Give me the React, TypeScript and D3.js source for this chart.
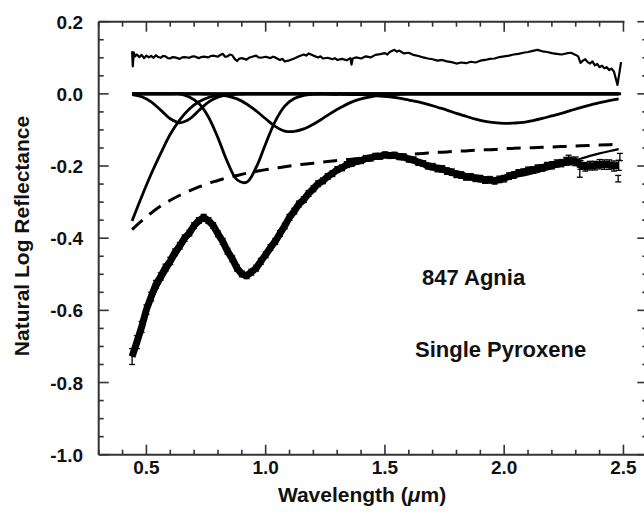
import React from 'react';
import * as d3 from 'd3';

// ---------- data ----------
// model grid (µm)
const modelWl = [0.44,0.48,0.52,0.56,0.60,0.64,0.68,0.72,0.76,0.80,0.84,0.88,0.92,0.96,1.00,1.04,1.08,1.12,1.16,1.20,1.24,1.28,1.32,1.36,1.40,1.44,1.48,1.52,1.56,1.60,1.64,1.68,1.72,1.76,1.80,1.84,1.88,1.92,1.96,2.00,2.04,2.08,2.12,2.16,2.20,2.24,2.28,2.32,2.36,2.40,2.44,2.48];

const bandUV = [-0.352,-0.285,-0.222,-0.165,-0.112,-0.072,-0.042,-0.022,-0.010,-0.004,-0.001,0,0,0,0,0,0,0,0,0,0,0,0,0,0,0,0,0,0,0,0,0,0,0,0,0,0,0,0,0,0,0,0,0,0,0,0,0,0,0,0,0];
const band063 = [-0.002,-0.008,-0.022,-0.045,-0.069,-0.080,-0.070,-0.046,-0.023,-0.009,-0.003,-0.001,0,0,0,0,0,0,0,0,0,0,0,0,0,0,0,0,0,0,0,0,0,0,0,0,0,0,0,0,0,0,0,0,0,0,0,0,0,0,0,0];
const band091 = [0,0,0,0,0,0,-0.009,-0.027,-0.064,-0.122,-0.189,-0.238,-0.245,-0.204,-0.138,-0.076,-0.034,-0.013,-0.004,-0.001,0,0,0,0,0,0,0,0,0,0,0,0,0,0,0,0,0,0,0,0,0,0,0,0,0,0,0,0,0,0,0,0];
const band110 = [0,0,0,0,0,0,0,0,-0.001,-0.003,-0.006,-0.014,-0.028,-0.047,-0.069,-0.090,-0.103,-0.104,-0.097,-0.084,-0.068,-0.051,-0.036,-0.023,-0.014,-0.008,-0.004,-0.002,-0.001,0,0,0,0,0,0,0,0,0,0,0,0,0,0,0,0,0,0,0,0,0,0,0];
const band200 = [0,0,0,0,0,0,0,0,0,0,0,0,0,0,0,0,0,0,0,0,0,-0.001,-0.001,-0.002,-0.002,-0.004,-0.006,-0.008,-0.012,-0.017,-0.022,-0.029,-0.037,-0.045,-0.054,-0.062,-0.070,-0.076,-0.080,-0.082,-0.081,-0.079,-0.074,-0.068,-0.061,-0.054,-0.046,-0.038,-0.031,-0.024,-0.019,-0.014];
const continuum = [-0.376,-0.352,-0.330,-0.311,-0.295,-0.281,-0.269,-0.258,-0.248,-0.240,-0.232,-0.226,-0.220,-0.215,-0.210,-0.206,-0.202,-0.198,-0.195,-0.192,-0.189,-0.186,-0.183,-0.181,-0.178,-0.176,-0.174,-0.172,-0.170,-0.168,-0.166,-0.164,-0.162,-0.161,-0.159,-0.158,-0.156,-0.155,-0.154,-0.152,-0.151,-0.150,-0.149,-0.148,-0.147,-0.146,-0.145,-0.144,-0.143,-0.142,-0.141,-0.140];
const modelFit = [-0.730,-0.645,-0.574,-0.521,-0.476,-0.433,-0.390,-0.353,-0.346,-0.380,-0.432,-0.480,-0.498,-0.475,-0.438,-0.398,-0.357,-0.322,-0.293,-0.266,-0.244,-0.225,-0.209,-0.197,-0.188,-0.181,-0.176,-0.174,-0.175,-0.180,-0.187,-0.194,-0.201,-0.208,-0.215,-0.222,-0.228,-0.232,-0.235,-0.234,-0.231,-0.226,-0.220,-0.213,-0.206,-0.198,-0.189,-0.180,-0.172,-0.165,-0.159,-0.153];

// measured spectrum: [wavelength, ln reflectance, error]
const spectrum: [number, number, number][] = [
  [0.44,-0.728,0.022],[0.46,-0.688,0.018],[0.48,-0.646,0.015],[0.50,-0.598,0.013],[0.52,-0.562,0.012],
  [0.54,-0.528,0.011],[0.56,-0.506,0.010],[0.58,-0.482,0.010],[0.60,-0.463,0.010],[0.62,-0.439,0.009],
  [0.64,-0.421,0.009],[0.66,-0.400,0.009],[0.68,-0.386,0.008],[0.70,-0.365,0.008],[0.72,-0.351,0.008],
  [0.74,-0.342,0.008],[0.76,-0.351,0.008],[0.78,-0.365,0.008],[0.80,-0.388,0.008],[0.82,-0.409,0.008],
  [0.84,-0.436,0.008],[0.86,-0.457,0.008],[0.88,-0.483,0.008],[0.90,-0.499,0.008],[0.92,-0.504,0.008],
  [0.94,-0.494,0.008],[0.96,-0.483,0.008],[0.98,-0.464,0.008],[1.00,-0.446,0.008],[1.02,-0.426,0.008],
  [1.04,-0.409,0.008],[1.06,-0.387,0.008],[1.08,-0.366,0.008],[1.10,-0.342,0.008],[1.12,-0.325,0.008],
  [1.14,-0.305,0.008],[1.16,-0.293,0.008],[1.18,-0.276,0.008],[1.20,-0.263,0.008],[1.22,-0.249,0.008],
  [1.24,-0.241,0.008],[1.26,-0.229,0.008],[1.28,-0.221,0.008],[1.30,-0.210,0.008],[1.32,-0.205,0.008],
  [1.34,-0.196,0.008],[1.36,-0.193,0.008],[1.38,-0.187,0.008],[1.40,-0.185,0.008],[1.42,-0.179,0.008],
  [1.44,-0.178,0.008],[1.46,-0.173,0.008],[1.48,-0.173,0.008],[1.50,-0.169,0.008],[1.52,-0.171,0.008],
  [1.54,-0.170,0.008],[1.56,-0.174,0.008],[1.58,-0.175,0.008],[1.60,-0.181,0.008],[1.62,-0.183,0.008],
  [1.64,-0.190,0.008],[1.66,-0.193,0.008],[1.68,-0.200,0.008],[1.70,-0.202,0.009],[1.72,-0.207,0.009],
  [1.74,-0.208,0.009],[1.76,-0.214,0.009],[1.78,-0.217,0.009],[1.80,-0.223,0.009],[1.82,-0.225,0.009],
  [1.84,-0.230,0.009],[1.86,-0.230,0.009],[1.88,-0.234,0.009],[1.90,-0.235,0.009],[1.92,-0.239,0.009],
  [1.94,-0.238,0.009],[1.96,-0.241,0.009],[1.98,-0.237,0.009],[2.00,-0.235,0.009],[2.02,-0.228,0.009],
  [2.04,-0.225,0.009],[2.06,-0.219,0.009],[2.08,-0.217,0.009],[2.10,-0.212,0.009],[2.12,-0.211,0.009],
  [2.14,-0.206,0.009],[2.16,-0.205,0.009],[2.18,-0.199,0.009],[2.20,-0.198,0.010],[2.22,-0.193,0.010],
  [2.24,-0.192,0.010],[2.26,-0.187,0.011],[2.28,-0.186,0.011],[2.30,-0.187,0.012],[2.32,-0.197,0.012],
  [2.34,-0.202,0.012],[2.36,-0.199,0.012],[2.38,-0.199,0.012],[2.40,-0.195,0.013],[2.42,-0.196,0.013],
  [2.44,-0.196,0.013],[2.46,-0.200,0.014],[2.48,-0.198,0.014],
];
const outliers: [number, number, number][] = [
  [2.27,-0.180,0.010],[2.317,-0.217,0.014],[2.478,-0.235,0.009],[2.485,-0.175,0.010],
];

// residual (data - model) + 0.1 offset: [wavelength, value]
const residual: [number, number][] = [
  [0.440,0.118],[0.443,0.076],[0.447,0.115],[0.452,0.104],[0.46,0.109],[0.47,0.102],[0.48,0.108],[0.49,0.099],
  [0.50,0.106],[0.51,0.101],[0.52,0.105],[0.53,0.100],[0.54,0.107],[0.55,0.102],[0.56,0.100],[0.57,0.105],
  [0.58,0.104],[0.59,0.099],[0.60,0.098],[0.61,0.102],[0.62,0.101],[0.64,0.097],[0.65,0.101],[0.66,0.102],
  [0.68,0.100],[0.69,0.103],[0.70,0.104],[0.72,0.099],[0.73,0.102],[0.74,0.103],[0.76,0.101],[0.77,0.105],
  [0.78,0.106],[0.80,0.103],[0.81,0.108],[0.82,0.111],[0.83,0.103],[0.84,0.104],[0.85,0.109],[0.86,0.107],
  [0.87,0.097],[0.88,0.091],[0.89,0.098],[0.90,0.099],[0.92,0.095],[0.93,0.100],[0.94,0.102],[0.96,0.106],
  [0.97,0.101],[0.98,0.100],[1.00,0.103],[1.02,0.099],[1.03,0.103],[1.04,0.101],[1.06,0.094],[1.07,0.097],
  [1.08,0.090],[1.10,0.093],[1.12,0.098],[1.14,0.104],[1.16,0.109],[1.17,0.106],[1.18,0.112],[1.20,0.106],
  [1.22,0.101],[1.23,0.104],[1.24,0.098],[1.26,0.100],[1.28,0.096],[1.29,0.099],[1.30,0.094],[1.32,0.097],
  [1.34,0.093],[1.355,0.099],[1.36,0.081],[1.365,0.098],[1.38,0.101],[1.40,0.098],[1.42,0.104],[1.44,0.101],
  [1.46,0.108],[1.48,0.110],[1.50,0.113],[1.51,0.109],[1.52,0.116],[1.54,0.122],[1.55,0.117],[1.56,0.120],
  [1.58,0.112],[1.60,0.114],[1.62,0.108],[1.64,0.105],[1.66,0.101],[1.68,0.098],[1.70,0.096],[1.72,0.092],
  [1.74,0.094],[1.76,0.090],[1.78,0.088],[1.80,0.084],[1.82,0.087],[1.84,0.085],[1.86,0.089],[1.88,0.087],
  [1.90,0.092],[1.92,0.094],[1.94,0.097],[1.96,0.098],[1.98,0.102],[2.00,0.104],[2.02,0.106],[2.04,0.109],
  [2.06,0.111],[2.08,0.114],[2.10,0.116],[2.12,0.119],[2.14,0.122],[2.16,0.118],[2.18,0.116],[2.20,0.113],
  [2.22,0.111],[2.24,0.109],[2.26,0.112],[2.28,0.114],[2.30,0.108],[2.31,0.104],[2.32,0.086],[2.33,0.092],
  [2.34,0.096],[2.35,0.088],[2.36,0.084],[2.37,0.090],[2.38,0.079],[2.39,0.083],[2.40,0.074],[2.41,0.078],
  [2.42,0.071],[2.43,0.074],[2.44,0.066],[2.45,0.070],[2.46,0.062],[2.475,0.025],[2.49,0.088],
];

const zeroLine: [number, number][] = [[0.44, 0], [2.49, 0]];

const xMajor = [0.5, 1.0, 1.5, 2.0, 2.5];
const xMinor = [0.3,0.4,0.6,0.7,0.8,0.9,1.1,1.2,1.3,1.4,1.6,1.7,1.8,1.9,2.1,2.2,2.3,2.4];
const yMajor = [-1.0, -0.8, -0.6, -0.4, -0.2, 0.0, 0.2];
const yMinor = [-0.95,-0.9,-0.85,-0.75,-0.7,-0.65,-0.55,-0.5,-0.45,-0.35,-0.3,-0.25,-0.15,-0.1,-0.05,0.05,0.1,0.15];

// ---------- layout ----------
const W = 644, H = 516;
const x = d3.scaleLinear().domain([0.3, 2.6]).range([98.7, 647.3]);
const y = d3.scaleLinear().domain([-1.0, 0.2]).range([454.7, 21.7]);

const FONT = '"Liberation Sans", Arial, Helvetica, sans-serif';
const AXIS = '#333';

export default function App() {
  const smooth = d3.line<[number, number]>().x(d => x(d[0])).y(d => y(d[1])).curve(d3.curveCatmullRom.alpha(0.5));
  const lin = d3.line<[number, number]>().x(d => x(d[0])).y(d => y(d[1]));
  const zip = (vals: number[]) => modelWl.map((w, i) => [w, vals[i]] as [number, number]);

  const bands = [bandUV, band063, band091, band110, band200];
  const x0 = x(0.3), x1 = x(2.6), yb = y(-1.0), yt = y(0.2);

  const errBar = (d: [number, number, number], i: number) => {
    const cx = x(d[0]);
    const ya = y(d[1] - d[2]), yc = y(d[1] + d[2]);
    return (
      <g key={i}>
        <line x1={cx} x2={cx} y1={ya} y2={yc} stroke="#000" strokeWidth={1.3} />
        <line x1={cx - 3} x2={cx + 3} y1={ya} y2={ya} stroke="#000" strokeWidth={1.3} />
        <line x1={cx - 3} x2={cx + 3} y1={yc} y2={yc} stroke="#000" strokeWidth={1.3} />
      </g>
    );
  };

  return (
    <svg width={W} height={H} style={{ position: 'absolute', left: 0, top: 0, background: '#fff' }}
      fontFamily={FONT} fontWeight="bold">
      <rect x={0} y={0} width={W} height={H} fill="#fff" />
      {/* frame */}
      <line x1={x0} x2={x0} y1={yt} y2={yb} stroke={AXIS} strokeWidth={2} />
      <line x1={x0} x2={x1} y1={yb} y2={yb} stroke={AXIS} strokeWidth={2} />
      <line x1={x0} x2={x(2.5) + 1} y1={yt} y2={yt} stroke={AXIS} strokeWidth={2} />
      <line x1={x1} x2={x1} y1={yt} y2={yb} stroke={AXIS} strokeWidth={2} />
      {/* x ticks */}
      {xMajor.map(v => (
        <g key={'xM' + v}>
          <line x1={x(v)} x2={x(v)} y1={yb} y2={yb - 10} stroke={AXIS} strokeWidth={1.6} />
          <line x1={x(v)} x2={x(v)} y1={yt} y2={yt + 10} stroke={AXIS} strokeWidth={1.6} />
          <text x={x(v)} y={474} textAnchor="middle" fontSize={19} fill="#111">{v.toFixed(1)}</text>
        </g>
      ))}
      {xMinor.map(v => (
        <g key={'xm' + v}>
          <line x1={x(v)} x2={x(v)} y1={yb} y2={yb - 5} stroke={AXIS} strokeWidth={1.6} />
          <line x1={x(v)} x2={x(v)} y1={yt} y2={yt + 5} stroke={AXIS} strokeWidth={1.6} />
        </g>
      ))}
      {/* y ticks */}
      {yMajor.map(v => (
        <g key={'yM' + v}>
          <line x1={x0} x2={x0 + 10} y1={y(v)} y2={y(v)} stroke={AXIS} strokeWidth={1.6} />
          <line x1={x1} x2={x1 - 10} y1={y(v)} y2={y(v)} stroke={AXIS} strokeWidth={1.6} />
          <text x={83} y={y(v) + 7} textAnchor="end" fontSize={19} fill="#111">{v.toFixed(1)}</text>
        </g>
      ))}
      {yMinor.map(v => (
        <g key={'ym' + v}>
          <line x1={x0} x2={x0 + 5} y1={y(v)} y2={y(v)} stroke={AXIS} strokeWidth={1.6} />
          <line x1={x1} x2={x1 - 5} y1={y(v)} y2={y(v)} stroke={AXIS} strokeWidth={1.6} />
        </g>
      ))}
      {/* axis titles */}
      <text transform="translate(29,236) rotate(-90)" textAnchor="middle" fontSize={21} fill="#111">Natural Log Reflectance</text>
      <text x={362} y={502} textAnchor="middle" fontSize={21} fill="#111">
        Wavelength (<tspan fontStyle="italic">μ</tspan>m)
      </text>
      {/* annotations */}
      <text x={422} y={285} fontSize={22} fill="#111">847 Agnia</text>
      <text x={415} y={357} fontSize={22} fill="#111">Single Pyroxene</text>

      {/* residual */}
      <path d={lin(residual) || ''} fill="none" stroke="#000" strokeWidth={2.2} strokeLinejoin="round" />
      {/* zero line */}
      <path d={lin(zeroLine) || ''} fill="none" stroke="#000" strokeWidth={3} />
      {/* bands */}
      {bands.map((b, i) => (
        <path key={'b' + i} d={smooth(zip(b)) || ''} fill="none" stroke="#000" strokeWidth={2.8} />
      ))}
      {/* continuum */}
      <path d={smooth(zip(continuum)) || ''} fill="none" stroke="#000" strokeWidth={3} strokeDasharray="14 9" />
      {/* model fit */}
      <path d={smooth(zip(modelFit)) || ''} fill="none" stroke="#000" strokeWidth={2.2} />
      {/* spectrum */}
      <path d={lin(spectrum.map(d => [d[0], d[1]] as [number, number])) || ''} fill="none" stroke="#000" strokeWidth={7} strokeLinejoin="round" />
      {spectrum.map(errBar)}
      {outliers.map((d, i) => errBar(d, 1000 + i))}
    </svg>
  );
}
